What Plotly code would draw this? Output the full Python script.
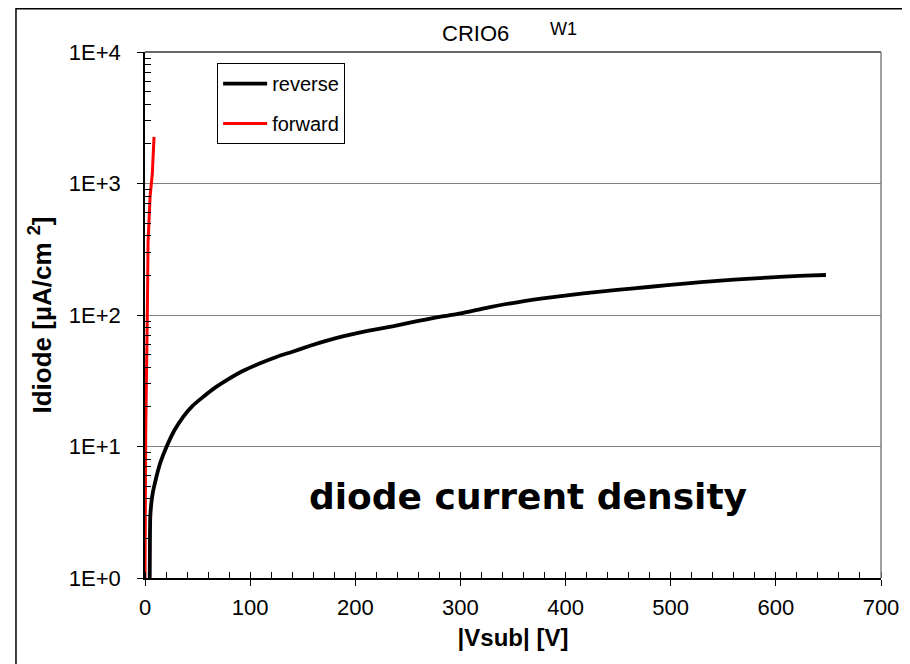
import plotly.graph_objects as go

# ---- data ----
rev_v = [4.5, 4.7, 5.0, 6.0, 7.5, 9.5, 12.0, 15.0, 20.6, 28.0, 36.5, 45.0, 55.5, 66.0,
         77.8, 93.0, 109.5, 125.0, 141.0, 157.0, 173.0, 189.0, 205.0, 221.0, 236.5,
         252.0, 268.0, 284.0, 300.0, 327.0, 354.0, 386.0, 417.0, 449.0, 481.0, 513.0,
         544.5, 576.0, 608.0, 628.0, 647.6]
rev_i = [1.0, 2.0, 2.9, 3.7, 4.5, 5.3, 6.4, 7.7, 10.0, 13.3, 16.9, 20.3, 23.9, 27.8,
         32.0, 37.5, 43.0, 48.0, 52.8, 58.3, 63.8, 69.0, 73.8, 78.2, 82.4,
         87.5, 92.7, 98.0, 103.0, 114.5, 125.0, 136.0, 146.0, 155.0, 164.0, 173.0,
         182.0, 189.0, 196.0, 199.0, 201.5]
fwd_v = [0.0, 0.7, 2.2, 2.9, 4.8, 7.0, 8.6]
fwd_i = [1.0, 13.3, 100.0, 354.0, 790.0, 1200.0, 2260.0]

y_tickvals = [1, 10, 100, 1000, 10000]
y_ticktext = ["1E+0", "1E+1", "1E+2", "1E+3", "1E+4"]
x_tickvals = [0, 100, 200, 300, 400, 500, 600, 700]
y_minor = [k * 10 ** d for d in range(4) for k in range(2, 10)]

FONT = "Liberation Sans, Arial, sans-serif"

fig = go.Figure()
fig.add_trace(go.Scatter(x=rev_v, y=rev_i, mode="lines", name="reverse",
                         legendgroup="r",
                         line=dict(color="black", width=3.8, shape="spline",
                                   smoothing=0.6)))
fig.add_trace(go.Scatter(x=fwd_v, y=fwd_i, mode="lines", name="forward",
                         legendgroup="f",
                         line=dict(color="#ff0000", width=3)))

fig.update_layout(
    width=910, height=664,
    margin=dict(l=137, r=37, t=44, b=94),
    paper_bgcolor="white", plot_bgcolor="white",
    font=dict(family=FONT, color="black", size=19),
    showlegend=True,
    legend=dict(x=0.098, y=0.979, xanchor="left", yanchor="top",
                bordercolor="black", borderwidth=1, bgcolor="white",
                font=dict(family=FONT, size=20, color="black"),
                itemwidth=44,
                tracegroupgap=11, traceorder="grouped"),
    xaxis=dict(range=[0, 700], tickvals=x_tickvals, ticks="outside", ticklen=6,
               tickcolor="black", showline=True, linecolor="black", linewidth=1.5,
               showgrid=False, zeroline=False, ticklabelstandoff=3,
               minor=dict(dtick=20, ticks="inside", ticklen=6, tickcolor="black",
                          showgrid=False),
               title=dict(text="<b>|Vsub| [V]</b>", font=dict(size=24), standoff=10),
               tickfont=dict(size=22)),
    yaxis=dict(type="log", range=[0, 4], tickvals=y_tickvals, ticktext=y_ticktext,
               ticks="outside", ticklen=6, tickcolor="black",
               showline=True, linecolor="black", linewidth=1.5,
               showgrid=True, gridcolor="#808080", gridwidth=1, zeroline=False,
               ticklabelstandoff=12,
               minor=dict(tickvals=y_minor, ticks="inside", ticklen=6,
                          tickcolor="black", showgrid=False),
               title=dict(text="<b>Idiode [µA/cm <sup>2</sup>]</b>", font=dict(size=26),
                          standoff=10),
               tickfont=dict(size=22)),
)

# top and right frame of the plot area
fig.add_shape(type="line", xref="paper", yref="paper", x0=0, x1=1, y0=1, y1=1,
              line=dict(color="#333333", width=1.5))
fig.add_shape(type="line", xref="paper", yref="paper", x0=1, x1=1, y0=0, y1=1,
              line=dict(color="#808080", width=1.5))
# outer chart frame
fig.add_shape(type="rect", xref="paper", yref="paper",
              x0=-0.1753, x1=1.0326, y0=-0.25, y1=1.0822,
              line=dict(color="black", width=1.5), fillcolor="rgba(0,0,0,0)")

fig.add_annotation(text="CRIO6", xref="paper", yref="paper", x=0.4497, y=1.036,
                   xanchor="center", yanchor="middle",
                   showarrow=False, font=dict(size=22, family=FONT))
fig.add_annotation(text="W1", xref="paper", yref="paper", x=0.568, y=1.044,
                   xanchor="center", yanchor="middle",
                   showarrow=False, font=dict(size=18, family=FONT))
fig.add_annotation(text="<b>diode current density</b>", xref="paper", yref="paper",
                   x=0.521, y=0.154, xanchor="center", yanchor="middle",
                   showarrow=False,
                   font=dict(size=36, family="Comic Sans MS, DejaVu Sans, sans-serif"))

fig.write_html("out.html")
